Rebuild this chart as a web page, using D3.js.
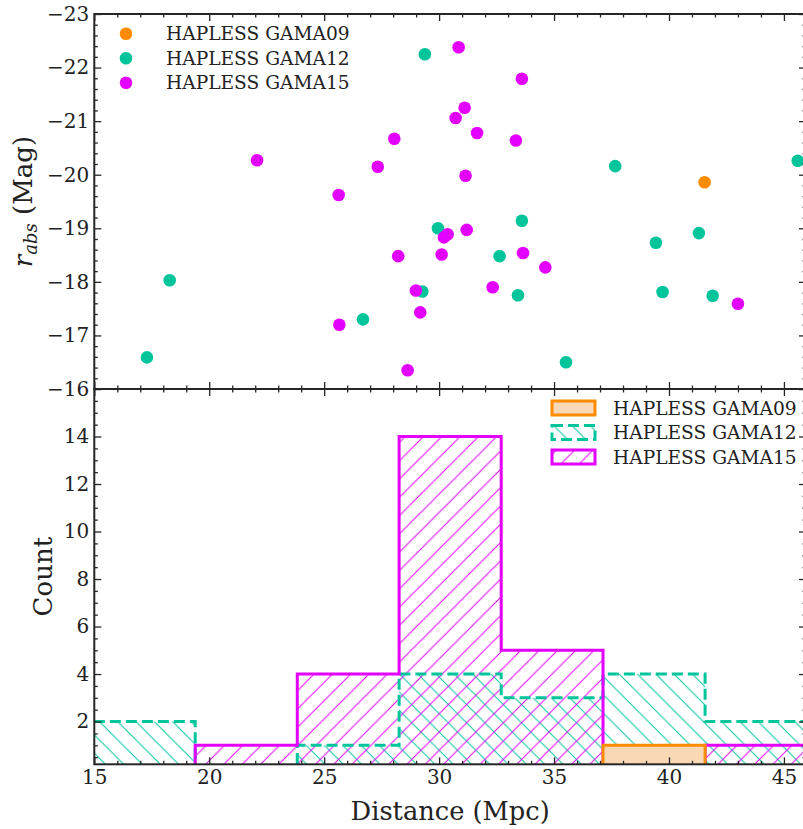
<!DOCTYPE html>
<html>
<head>
<meta charset="utf-8">
<script src="https://cdn.jsdelivr.net/npm/d3@7/dist/d3.min.js"></script>
<style>
  html, body { margin: 0; padding: 0; background: #fff; }
  svg { display: block; }
  text { font-family: "DejaVu Serif", serif; fill: #222; }
</style>
</head>
<body>
<svg id="chart" width="803" height="829"></svg>
<script>
// ---------------- DATA ----------------
const seriesNames = ["HAPLESS GAMA09", "HAPLESS GAMA12", "HAPLESS GAMA15"];

// Scatter: distance (Mpc) and r_abs (Mag)
const gama09Dist = [41.55];
const gama09Mag  = [-19.86];

const gama12Dist = [18.28, 17.29, 26.69, 29.38, 37.66, 45.60, 29.95, 33.60, 39.43, 41.30, 32.63, 29.27, 33.43, 39.72, 41.90, 35.52];
const gama12Mag  = [-18.03, -16.59, -17.30, -22.25, -20.16, -20.26, -19.00, -19.14, -18.73, -18.91, -18.48, -17.82, -17.75, -17.81, -17.74, -16.50];

const gama15Dist = [22.08, 25.63, 25.66, 27.33, 28.05, 28.22, 30.85, 33.60, 31.11, 30.72, 31.65, 33.34, 31.15, 30.37, 30.21, 31.20, 30.11, 33.65, 34.62, 28.99, 32.33, 43.00, 29.18, 28.63];
const gama15Mag  = [-20.27, -19.62, -17.20, -20.15, -20.67, -18.48, -22.38, -21.79, -21.25, -21.06, -20.78, -20.64, -19.98, -18.89, -18.83, -18.97, -18.51, -18.54, -18.27, -17.84, -17.90, -17.59, -17.43, -16.35];

// Histogram bin edges (Mpc) and counts
const binEdges = [14.96, 19.39, 23.83, 28.26, 32.70, 37.13, 41.57, 46.00];
const gama09Counts = [0, 0, 0, 0, 0, 1, 0];
const gama12Counts = [2, 0, 1, 4, 3, 4, 2];
const gama15Counts = [0, 1, 4, 14, 5, 0, 1];

// Ticks
const xTicks = [15, 20, 25, 30, 35, 40, 45];
const magTicks = [-23, -22, -21, -20, -19, -18, -17, -16];
const countTicks = [2, 4, 6, 8, 10, 12, 14, 16];
const countTickLabels = [2, 4, 6, 8, 10, 12, 14];

// ---------------- STYLE ----------------
const colors = { g09: "#ff8c00", g12: "#00c59b", g15: "#e300ff", g09fill: "#f9d8b6" };
const L = 94.3, R = 806, T1 = 14, B1 = 389, T2 = 389, B2 = 764.3;
const axisColor = "#262626";

const svg = d3.select("#chart");

const x = d3.scaleLinear().domain([15, 45.96]).range([L, R]);
const yTop = d3.scaleLinear().domain([-23, -16]).range([T1, B1]);
const yBot = d3.scaleLinear().domain([0.2, 16]).range([B2, T2]);

// hatch patterns
const defs = svg.append("defs");
const hs = 18.3;
function hatch(id, color, dir) {
  const p = defs.append("pattern").attr("id", id).attr("patternUnits", "userSpaceOnUse")
    .attr("width", hs).attr("height", hs);
  const d = dir === "/"
    ? `M${-hs/2},${hs/2} L${hs/2},${-hs/2} M0,${hs} L${hs},0 M${hs/2},${hs*1.5} L${hs*1.5},${hs/2}`
    : `M${-hs/2},${hs/2} L${hs/2},${hs*1.5} M0,0 L${hs},${hs} M${hs/2},${-hs/2} L${hs*1.5},${hs/2}`;
  p.append("path").attr("d", d).attr("stroke", color).attr("stroke-width", 1).attr("fill", "none");
}
hatch("h12", colors.g12, "\\");
hatch("h15", colors.g15, "/");

defs.append("clipPath").attr("id", "clipTop").append("rect")
  .attr("x", L).attr("y", T1).attr("width", R - L).attr("height", B1 - T1);
defs.append("clipPath").attr("id", "clipBot").append("rect")
  .attr("x", L).attr("y", T2).attr("width", R - L).attr("height", B2 - T2);

// ---------------- TOP PANEL: scatter ----------------
const gTop = svg.append("g").attr("clip-path", "url(#clipTop)");
const scatterSets = [
  { dist: gama09Dist, mag: gama09Mag, color: colors.g09 },
  { dist: gama12Dist, mag: gama12Mag, color: colors.g12 },
  { dist: gama15Dist, mag: gama15Mag, color: colors.g15 }
];
scatterSets.forEach(s => {
  gTop.selectAll(null).data(s.dist.map((d, i) => [d, s.mag[i]])).enter()
    .append("circle")
    .attr("cx", d => x(d[0])).attr("cy", d => yTop(d[1]))
    .attr("r", 6.3).attr("fill", s.color);
});

// ---------------- BOTTOM PANEL: histograms ----------------
const gBot = svg.append("g").attr("clip-path", "url(#clipBot)");
function stepPts(counts) {
  const pts = [[binEdges[0], 0]];
  counts.forEach((c, i) => { pts.push([binEdges[i], c]); pts.push([binEdges[i + 1], c]); });
  pts.push([binEdges[binEdges.length - 1], 0]);
  return pts;
}
const line = d3.line().x(d => x(d[0])).y(d => yBot(d[1]));
const histSets = [
  { counts: gama12Counts, fill: "url(#h12)", stroke: colors.g12, dash: "11,5" },
  { counts: gama15Counts, fill: "url(#h15)", stroke: colors.g15, dash: null }
];
histSets.forEach(h => {
  gBot.append("path").attr("d", line(stepPts(h.counts)) + "Z")
    .attr("fill", h.fill).attr("stroke", "none");
});
histSets.forEach(h => {
  gBot.append("path").attr("d", line(stepPts(h.counts)) + "Z")
    .attr("fill", "none").attr("stroke", h.stroke).attr("stroke-width", 3)
    .attr("stroke-dasharray", h.dash).attr("stroke-linejoin", "miter");
});
gBot.append("path").attr("d", line(stepPts(gama09Counts)) + "Z")
  .attr("fill", colors.g09fill).attr("stroke", colors.g09).attr("stroke-width", 3);

// ---------------- AXES ----------------
function styleAxis(g) {
  g.attr("font-family", "DejaVu Serif").attr("font-size", 20);
  g.select(".domain").remove();
  g.selectAll(".tick line").attr("stroke", axisColor).attr("stroke-width", 1.3);
  g.selectAll(".tick text").attr("fill", "#222");
}
const majorLen = 7, minorLen = 3.5;
const fmtInt = d3.format("d");
const xMinor = d3.range(15, 46, 1).filter(v => v % 5 !== 0);
const magMinor = d3.range(-23, -16, 0.2).map(v => +v.toFixed(1)).filter(v => Math.abs(v - Math.round(v)) > 1e-6);
const countMinor = d3.range(0.5, 16, 0.5).filter(v => v % 2 !== 0);

// top panel axes
svg.append("g").attr("transform", `translate(${L},0)`)
  .call(d3.axisLeft(yTop).tickValues(magTicks).tickSize(-majorLen).tickPadding(5).tickFormat(fmtInt)).call(styleAxis);
svg.append("g").attr("transform", `translate(${L},0)`)
  .call(d3.axisLeft(yTop).tickValues(magMinor).tickSize(-minorLen).tickFormat("")).call(styleAxis);
svg.append("g").attr("transform", `translate(${R},0)`)
  .call(d3.axisRight(yTop).tickValues(magTicks).tickSize(-majorLen).tickFormat("")).call(styleAxis);
svg.append("g").attr("transform", `translate(${R},0)`)
  .call(d3.axisRight(yTop).tickValues(magMinor).tickSize(-minorLen).tickFormat("")).call(styleAxis);
[[T1, "top"], [B1, "bottom"]].forEach(([yy, side]) => {
  const ax = side === "top" ? d3.axisTop : d3.axisBottom;
  svg.append("g").attr("transform", `translate(0,${yy})`)
    .call(ax(x).tickValues(xTicks).tickSize(-majorLen).tickFormat("")).call(styleAxis);
  svg.append("g").attr("transform", `translate(0,${yy})`)
    .call(ax(x).tickValues(xMinor).tickSize(-minorLen).tickFormat("")).call(styleAxis);
});

// bottom panel axes
svg.append("g").attr("transform", `translate(${L},0)`)
  .call(d3.axisLeft(yBot).tickValues(countTicks).tickSize(-majorLen).tickPadding(5)
    .tickFormat(d => countTickLabels.includes(d) ? fmtInt(d) : "")).call(styleAxis);
svg.append("g").attr("transform", `translate(${L},0)`)
  .call(d3.axisLeft(yBot).tickValues(countMinor).tickSize(-minorLen).tickFormat("")).call(styleAxis);
svg.append("g").attr("transform", `translate(${R},0)`)
  .call(d3.axisRight(yBot).tickValues(countTicks).tickSize(-majorLen).tickFormat("")).call(styleAxis);
svg.append("g").attr("transform", `translate(${R},0)`)
  .call(d3.axisRight(yBot).tickValues(countMinor).tickSize(-minorLen).tickFormat("")).call(styleAxis);
svg.append("g").attr("transform", `translate(0,${T2})`)
  .call(d3.axisTop(x).tickValues(xTicks).tickSize(-majorLen).tickFormat("")).call(styleAxis);
svg.append("g").attr("transform", `translate(0,${T2})`)
  .call(d3.axisTop(x).tickValues(xMinor).tickSize(-minorLen).tickFormat("")).call(styleAxis);
svg.append("g").attr("transform", `translate(0,${B2})`)
  .call(d3.axisBottom(x).tickValues(xTicks).tickSize(-majorLen).tickPadding(6).tickFormat(fmtInt)).call(styleAxis);
svg.append("g").attr("transform", `translate(0,${B2})`)
  .call(d3.axisBottom(x).tickValues(xMinor).tickSize(-minorLen).tickFormat("")).call(styleAxis);

// spines
[[T1, B1], [T2, B2]].forEach(([t, b]) => {
  svg.append("rect").attr("x", L).attr("y", t).attr("width", R - L).attr("height", b - t)
    .attr("fill", "none").attr("stroke", axisColor).attr("stroke-width", 2);
});

// ---------------- LABELS ----------------
const rl = svg.append("text").attr("transform", `translate(32,${(T1 + B1) / 2}) rotate(-90)`)
  .attr("text-anchor", "middle").attr("font-size", 26);
rl.append("tspan").attr("font-style", "italic").text("r");
rl.append("tspan").attr("font-style", "italic").attr("font-size", 18).attr("dy", 5).text("abs");
rl.append("tspan").attr("dy", -5).text("\u00a0(Mag)");

svg.append("text").attr("transform", `translate(52,${(T2 + B2) / 2}) rotate(-90)`)
  .attr("text-anchor", "middle").attr("font-size", 26).text("Count");
svg.append("text").attr("x", (L + R) / 2).attr("y", 820)
  .attr("text-anchor", "middle").attr("font-size", 25.7).text("Distance (Mpc)");

// ---------------- LEGENDS ----------------
const legTop = svg.append("g");
const legColors = [colors.g09, colors.g12, colors.g15];
const legTopY = [33.7, 58.3, 82.7];
seriesNames.forEach((n, i) => {
  legTop.append("circle").attr("cx", 126).attr("cy", legTopY[i]).attr("r", 6.3).attr("fill", legColors[i]);
  legTop.append("text").attr("x", 166).attr("y", legTopY[i]).attr("dy", "0.36em")
    .attr("font-size", 18.6).text(n);
});

const legBot = svg.append("g");
const legBotY = [408, 432.5, 457];
const legFills = [colors.g09fill, "url(#h12)", "url(#h15)"];
const legDash = [null, "11,5", null];
seriesNames.forEach((n, i) => {
  legBot.append("rect").attr("x", 552).attr("y", legBotY[i] - 7).attr("width", 43).attr("height", 14)
    .attr("fill", legFills[i]).attr("stroke", legColors[i]).attr("stroke-width", 3)
    .attr("stroke-dasharray", legDash[i]);
  legBot.append("text").attr("x", 613).attr("y", legBotY[i]).attr("dy", "0.36em")
    .attr("font-size", 18.6).text(n);
});
</script>
</body>
</html>
